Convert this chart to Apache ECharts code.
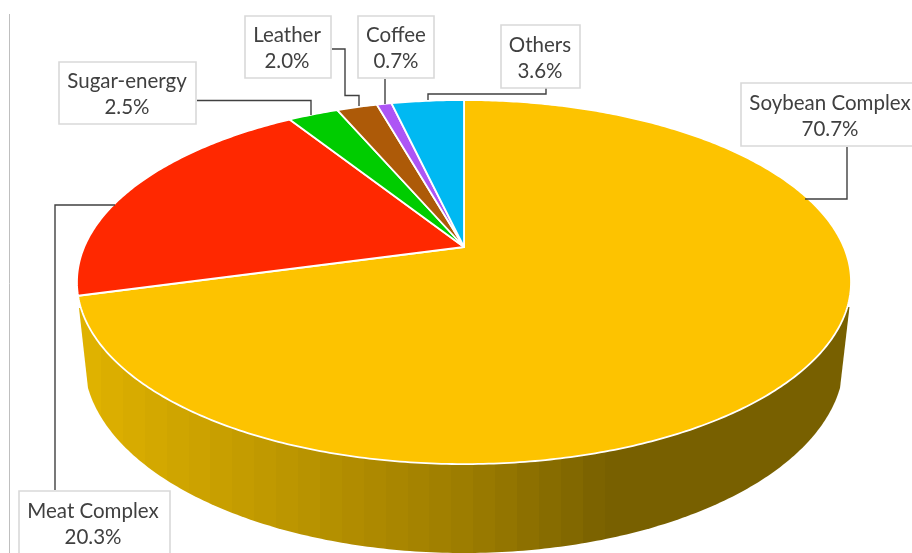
<!DOCTYPE html>
<html>
<head>
<meta charset="utf-8">
<style>html,body{margin:0;padding:0;background:#fff}#c{width:912px;height:553px}</style>
<script src="https://cdn.jsdelivr.net/npm/echarts@6/dist/echarts.min.js"></script>
</head>
<body>
<div id="c"></div>
<script>
var categories = ['Soybean Complex','Meat Complex','Sugar-energy','Leather','Coffee','Others'];
var shares = [70.72,20.28,2.54,2.04,0.74,3.64];
var colors = ['#FDC300','#FF2800','#00CC00','#AD5A08','#AD55F5','#00B9F2'];

// Label boxes [x,y,w,h] and leader paths (layout only)
var boxes = [[741,83,180,63],[19,491,151,70],[59,62,137,62],[245,16,86,62],[358,16,76,62],[501,25,79,63]];
var textCenters = [830,93,127,287,396,540];
var leaders = [
  [[847,147],[847,199],[805,199]],
  [[55,490],[55,205],[115,205]],
  [[197,100.5],[311,100.5],[311,115]],
  [[332,49],[345,49],[345,95.5],[359,95.5],[359,106]],
  [[385,79],[385,104]],
  [[546,88],[546,94],[428,94],[428,100]]
];

// Perspective disc geometry
var hubX=464, hubY=247, A=379.8, B=175.3, K=0.1925;
var rim={cx:464,cy:360,rx:380,ry:193,phi0:0.145}; // lower rim
var total=shares.reduce(function(a,b){return a+b},0);
function project(theta){
  var u=Math.sin(theta), v=Math.cos(theta), d=1+K*v;
  return [hubX+A*u/d, hubY-B*v/d];
}
function sliceRange(i){
  var s=0; for(var j=0;j<i;j++) s+=shares[j];
  return [s/total*2*Math.PI,(s+shares[i])/total*2*Math.PI];
}
function slicePoints(i){
  var r=sliceRange(i), n=Math.max(6,Math.round((r[1]-r[0])*90)), pts=[[hubX,hubY]];
  for(var k=0;k<=n;k++) pts.push(project(r[0]+(r[1]-r[0])*k/n));
  return pts;
}
function sidePoints(){
  var pts=[[849.5,307]];
  for(var k=0;k<=200;k++){
    var p=rim.phi0+(Math.PI-2*rim.phi0)*k/200;
    pts.push([rim.cx+rim.rx*Math.cos(p),rim.cy+rim.ry*Math.sin(p)]);
  }
  pts.push([79,308]);
  return pts;
}
// Shading of the rim: stepped bands from light (left) to dark (right)
function bandStops(){
  var x0=78,x1=852,bw=22,stops=[];
  function col(x){
    var t,r,g;
    if(x<470){t=(x-100)/370;r=221-65*t;g=176-52*t;}
    else if(x<612){t=(x-470)/142;r=156-36*t;g=124-28*t;}
    else{r=120;g=96;}
    return 'rgb('+Math.round(r)+','+Math.round(g)+',0)';
  }
  for(var x=x0;x<x1;x+=bw){
    var e=Math.min(x+bw,x1),c=col(x+bw/2);
    stops.push({offset:(x-x0)/(x1-x0),color:c});
    stops.push({offset:(e-x0)/(x1-x0),color:c});
  }
  return stops;
}
var sideFill=new echarts.graphic.LinearGradient(0,0,1,0,bandStops());
function renderItem(params,api){
  var i=api.value(0), kids=[];
  if(i===0){
    kids.push({type:'polygon',shape:{points:sidePoints()},style:{fill:sideFill,stroke:null},z2:1});
  }
  kids.push({type:'polygon',shape:{points:slicePoints(i)},
    style:{fill:colors[i],stroke:'#fff',lineWidth:1.8,lineJoin:'round'},z2:10+i});
  kids.push({type:'polyline',shape:{points:leaders[i]},
    style:{fill:null,stroke:'#404040',lineWidth:1.4},z2:30});
  var b=boxes[i];
  kids.push({type:'rect',shape:{x:b[0],y:b[1],width:b[2],height:b[3]},
    style:{fill:'#fff',stroke:'#D9D9D9',lineWidth:1.6},z2:40});
  var midY=b[1]+(i===1?31.5:b[3]/2);
  kids.push({type:'text',z2:50,style:{text:categories[i],x:textCenters[i],y:midY-11.5,align:'center',verticalAlign:'middle',
    fill:'#404040',font:'20.5px Lato'}});
  kids.push({type:'text',z2:50,style:{text:shares[i].toFixed(1)+'%',x:textCenters[i],y:midY+14.5,align:'center',verticalAlign:'middle',
    fill:'#404040',font:'20.5px Lato'}});
  return {type:'group',children:kids};
}
var chart=echarts.init(document.getElementById('c'),null,{renderer:'canvas'});
chart.setOption({
  animation:false,
  backgroundColor:'#fff',
  graphic:[{type:'line',shape:{x1:9.5,y1:14,x2:9.5,y2:553},style:{stroke:'#BFBFBF',lineWidth:1},silent:true}],
  series:[{type:'custom',coordinateSystem:'none',silent:true,clip:false,renderItem:renderItem,
    data:categories.map(function(c,i){return {name:c,value:[i,shares[i]]}})}]
});
</script>
</body>
</html>
